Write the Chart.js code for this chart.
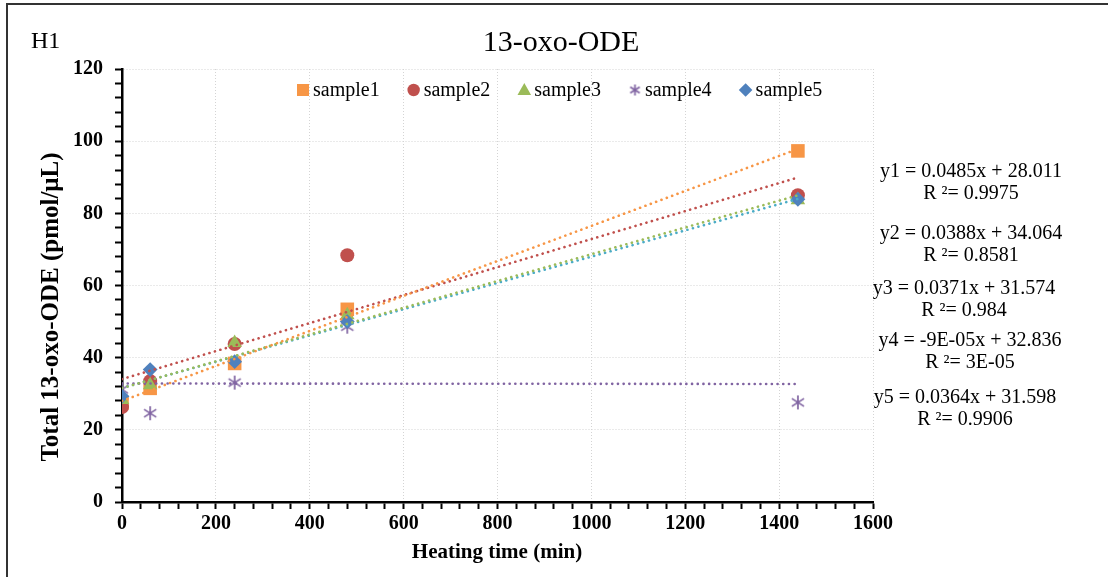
<!DOCTYPE html>
<html>
<head>
<meta charset="utf-8">
<script src="https://cdn.jsdelivr.net/npm/chart.js@4"></script>
<style>
  html, body { margin: 0; padding: 0; background: #fff; }
  canvas { display: block; }
</style>
</head>
<body>
<canvas id="oxoChart" width="1108" height="577"></canvas>
<script>
// Heating times (min) and measured totals (pmol/µL)
const timeMin = [0, 60, 240, 480, 1440];
const sample1 = [27.5, 31.5, 38.4, 53.4, 97.3];
const sample2 = [26.3, 33.5, 43.8, 68.4, 85.0];
const sample3 = [28.3, 32.4, 44.1, 51.8, 83.7];
const sample4 = [31.2, 24.6, 33.1, 48.6, 27.6];
const sample5 = [29.3, 36.7, 38.9, 50.0, 83.9];

const sampleNames = ['sample1', 'sample2', 'sample3', 'sample4', 'sample5'];

// Linear fits as printed next to the plot
const slopes = [0.0485, 0.0388, 0.0371, -0.00009, 0.0364];
const intercepts = [28.011, 34.064, 31.574, 32.836, 31.598];
const fitLabels = [
    'y1 = 0.0485x + 28.011',
    'y2 = 0.0388x + 34.064',
    'y3 = 0.0371x + 31.574',
    'y4 = -9E-05x + 32.836',
    'y5 = 0.0364x + 31.598'
];
const r2Labels = ['R ²= 0.9975', 'R ²= 0.8581', 'R ²= 0.984', 'R ²= 3E-05', 'R ²= 0.9906'];

const yTicks = [0, 20, 40, 60, 80, 100, 120];
const xTicks = [0, 200, 400, 600, 800, 1000, 1200, 1400, 1600];

const markerColors = ['#F79646', '#C0504D', '#9BBB59', '#8064A2', '#4F81BD'];
const trendColors = ['#F79646', '#C0504D', '#9BBB59', '#8064A2', '#4BACC6'];
const SERIF = '"Liberation Serif", "Times New Roman", serif';

// asterisk marker (X with a vertical bar)
function makeStar(color, size) {
    const c = document.createElement('canvas');
    c.width = size; c.height = size;
    const g = c.getContext('2d');
    const m = size / 2, r = size / 2 - 1;
    g.strokeStyle = color;
    g.lineWidth = 1.7;
    g.beginPath();
    g.moveTo(m, m - r); g.lineTo(m, m + r);
    g.moveTo(m - r * 0.87, m - r * 0.55); g.lineTo(m + r * 0.87, m + r * 0.55);
    g.moveTo(m + r * 0.87, m - r * 0.55); g.lineTo(m - r * 0.87, m + r * 0.55);
    g.stroke();
    return c;
}
const starImg = makeStar(markerColors[3], 16);
const starSmall = makeStar(markerColors[3], 13);

const pointStyles = ['rect', 'circle', 'triangle', starImg, 'rectRot'];
const pointRadii = [9.6, 7, 8.4, 8, 7.4];
const allSamples = [sample1, sample2, sample3, sample4, sample5];

const datasets = [];
allSamples.forEach((vals, i) => {
    datasets.push({
        type: 'scatter',
        label: sampleNames[i],
        data: timeMin.map((t, k) => ({ x: t, y: vals[k] })),
        backgroundColor: markerColors[i],
        borderColor: markerColors[i],
        borderWidth: 0,
        pointStyle: pointStyles[i],
        pointRadius: pointRadii[i],
        order: 10 - i
    });
});
// trendlines over the measured range
slopes.forEach((m, i) => {
    const x0 = timeMin[0], x1 = timeMin[timeMin.length - 1];
    datasets.push({
        type: 'line',
        label: 'trend' + (i + 1),
        data: [{ x: x0, y: intercepts[i] + m * x0 }, { x: x1, y: intercepts[i] + m * x1 }],
        borderColor: trendColors[i],
        borderWidth: 2.6,
        borderDash: [0.1, 5.6],
        borderCapStyle: 'round',
        pointRadius: 0,
        fill: false,
        order: 0
    });
});

function drawMarker(ctx, style, x, y, color) {
    ctx.save();
    ctx.fillStyle = color;
    ctx.beginPath();
    if (style === 'rect') {
        ctx.rect(x - 6, y - 6, 12, 12);
    } else if (style === 'circle') {
        ctx.arc(x, y, 6.2, 0, Math.PI * 2);
    } else if (style === 'triangle') {
        ctx.moveTo(x, y - 7); ctx.lineTo(x + 6.8, y + 5); ctx.lineTo(x - 6.8, y + 5);
        ctx.closePath();
    } else if (style === 'rectRot') {
        ctx.moveTo(x, y - 6.8); ctx.lineTo(x + 6.8, y); ctx.lineTo(x, y + 6.8); ctx.lineTo(x - 6.8, y);
        ctx.closePath();
    } else {
        ctx.drawImage(starSmall, x - 6.5, y - 6.5);
        ctx.restore();
        return;
    }
    ctx.fill();
    ctx.restore();
}

const decorations = {
    id: 'decorations',
    afterDraw(chart) {
        const ctx = chart.ctx;
        const area = chart.chartArea;
        ctx.save();

        // frame (top and left edges)
        ctx.strokeStyle = '#333';
        ctx.lineWidth = 2;
        ctx.beginPath();
        ctx.moveTo(7, 600); ctx.lineTo(7, 4); ctx.lineTo(1108, 4);
        ctx.stroke();

        ctx.fillStyle = '#000';
        ctx.textBaseline = 'alphabetic';
        ctx.textAlign = 'left';
        ctx.font = '24px ' + SERIF;
        ctx.fillText('H1', 31, 48);

        ctx.textAlign = 'center';
        ctx.font = '30px ' + SERIF;
        ctx.fillText('13-oxo-ODE', 561, 51);

        // axis titles
        ctx.textBaseline = 'middle';
        ctx.font = 'bold 21px ' + SERIF;
        ctx.fillText('Heating time (min)', 497, 553);
        ctx.save();
        ctx.font = 'bold 25px ' + SERIF;
        ctx.translate(52, 307);
        ctx.rotate(-Math.PI / 2);
        ctx.fillText('Total 13-oxo-ODE (pmol/μL)', 0, 0);
        ctx.restore();

        // legend inside the plot
        ctx.font = '20px ' + SERIF;
        ctx.textAlign = 'left';
        let lx = 297;
        sampleNames.forEach((name, i) => {
            drawMarker(ctx, pointStyles[i], lx + 6, 90, markerColors[i]);
            ctx.fillStyle = '#000';
            ctx.fillText(name, lx + 16, 91);
            lx += 16 + ctx.measureText(name).width + 28;
        });

        // fit equations
        ctx.textAlign = 'center';
        const eqY = [172, 234, 289, 341, 398];
        const eqX = [971, 971, 964, 970, 965];
        fitLabels.forEach((t, i) => {
            ctx.fillText(t, eqX[i], eqY[i]);
            ctx.fillText(r2Labels[i], eqX[i], eqY[i] + 22);
        });
        ctx.restore();
    }
};

const dottedGrid = (major) => ({
    color: (c) => (c.tick && major.includes(c.tick.value)) ? '#d4d4d4' : 'rgba(0,0,0,0)',
    lineWidth: 1,
    drawTicks: true,
    tickLength: 7,
    tickWidth: 2,
    tickColor: '#000'
});

new Chart(document.getElementById('oxoChart'), {
    data: { datasets: datasets },
    options: {
        responsive: false,
        animation: false,
        devicePixelRatio: 1,
        layout: { padding: { left: 0, right: 235, top: 69, bottom: 0 } },
        plugins: {
            legend: { display: false },
            tooltip: { enabled: false }
        },
        scales: {
            x: {
                type: 'linear',
                min: 0,
                max: 1600,
                afterFit: (s) => { s.height = 75; },
                ticks: {
                    stepSize: 40,
                    autoSkip: false,
                    maxRotation: 0,
                    padding: 3,
                    color: '#000',
                    font: { family: SERIF, size: 20, weight: 'bold' },
                    callback: (v) => xTicks.includes(v) ? String(v) : ''
                },
                grid: dottedGrid(xTicks),
                border: { display: true, color: '#000', width: 2.5, dash: [1, 2] }
            },
            y: {
                type: 'linear',
                min: 0,
                max: 120,
                afterFit: (s) => { s.width = 122; },
                ticks: {
                    stepSize: 4,
                    autoSkip: false,
                    padding: 12,
                    color: '#000',
                    font: { family: SERIF, size: 20, weight: 'bold' },
                    callback: (v) => yTicks.includes(v) ? String(v) : ''
                },
                grid: dottedGrid(yTicks),
                border: { display: true, color: '#000', width: 2.5, dash: [1, 2] }
            }
        }
    },
    plugins: [decorations]
});
</script>
</body>
</html>
